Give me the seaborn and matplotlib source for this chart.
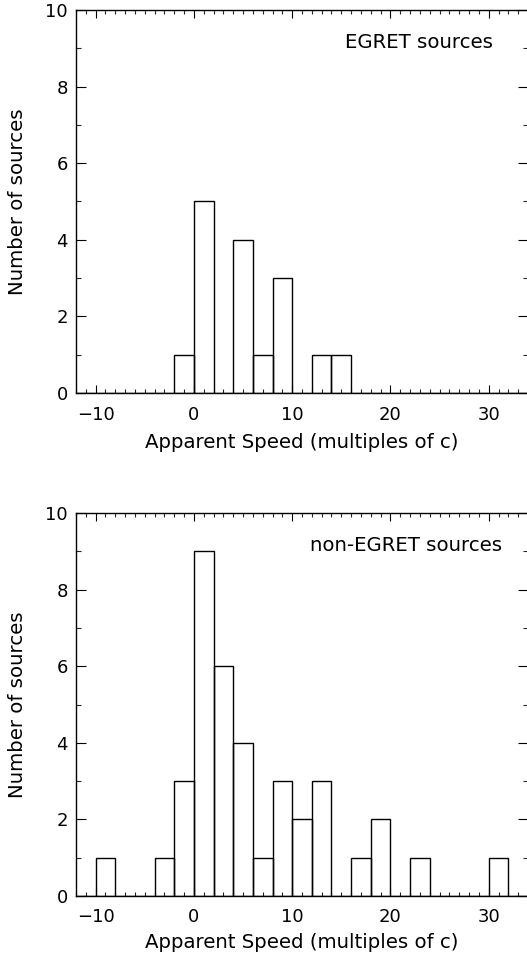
import numpy as np
import matplotlib
matplotlib.use("Agg")
import matplotlib.pyplot as plt
import seaborn as sns
from matplotlib.ticker import MultipleLocator

sns.set_theme(style="ticks")
plt.rcParams['font.family'] = ['DejaVu Sans']

# Bin centres (bins of width 2 from -12 to 34)
speed_centers = [-11, -9, -7, -5, -3, -1, 1, 3, 5, 7, 9, 11, 13, 15, 17, 19,
                 21, 23, 25, 27, 29, 31, 33]
egret_counts = [0, 0, 0, 0, 0, 1, 5, 0, 4, 1, 3, 0, 1, 1, 0, 0,
                0, 0, 0, 0, 0, 0, 0]
nonegret_counts = [0, 1, 0, 0, 1, 3, 9, 6, 4, 1, 3, 2, 3, 0, 1, 2,
                   0, 1, 0, 0, 0, 1, 0]
bin_edges = [-12, -10, -8, -6, -4, -2, 0, 2, 4, 6, 8, 10, 12, 14, 16, 18,
             20, 22, 24, 26, 28, 30, 32, 34]
panel_labels = ["EGRET sources", "non-EGRET sources"]
xlabel = "Apparent Speed (multiples of c)"
ylabel = "Number of sources"

W, H = 527, 957
fig = plt.figure(figsize=(W / 100, H / 100), dpi=100)
fig.patch.set_facecolor("white")

# axes boxes in pixel coords: left, top, right, bottom
boxes = [(76, 10, 528, 393), (76, 513, 528, 896)]
label_right = [493, 502]
xlabel_pads = [7, 5]
fs = 13
fs_lab = 14.2

for (l, t, r, b), counts, lab, lr, xlp in zip(boxes, [egret_counts, nonegret_counts],
                                              panel_labels, label_right, xlabel_pads):
    ax = fig.add_axes([l / W, 1 - b / H, (r - l) / W, (b - t) / H])
    ax.set_facecolor("white")
    sns.histplot(x=speed_centers, weights=counts, bins=bin_edges, ax=ax,
                 fill=False, color="black", linewidth=1.0, element="bars")
    ax.set_xlim(-12, 34)
    ax.set_ylim(0, 10)
    ax.xaxis.set_major_locator(MultipleLocator(10))
    ax.xaxis.set_minor_locator(MultipleLocator(1))
    ax.yaxis.set_major_locator(MultipleLocator(2))
    ax.yaxis.set_minor_locator(MultipleLocator(1))
    ax.tick_params(axis="x", which="major", direction="in", length=5.5, width=0.8,
                   top=True, bottom=True, labelsize=fs, pad=9, colors="black")
    ax.tick_params(axis="x", which="minor", direction="in", length=2.8, width=0.8,
                   top=True, bottom=True)
    ax.tick_params(axis="y", which="major", direction="in", length=7.5, width=0.8,
                   left=True, right=True, labelsize=fs, pad=6, colors="black")
    ax.tick_params(axis="y", which="minor", direction="in", length=3.6, width=0.8,
                   left=True, right=True)
    for s in ax.spines.values():
        s.set_visible(True)
        s.set_linewidth(1.0)
        s.set_color("black")
    ax.set_xlabel(xlabel, fontsize=fs_lab, color="black", labelpad=xlp)
    ax.set_ylabel(ylabel, fontsize=fs_lab, color="black", labelpad=13)
    xr = (lr - l) / (r - l)
    ax.text(xr, 0.915, lab, transform=ax.transAxes, ha="right", va="center",
            fontsize=fs_lab, color="black")
    ax.grid(False)

fig.savefig("out.png", dpi=100, facecolor="white")
